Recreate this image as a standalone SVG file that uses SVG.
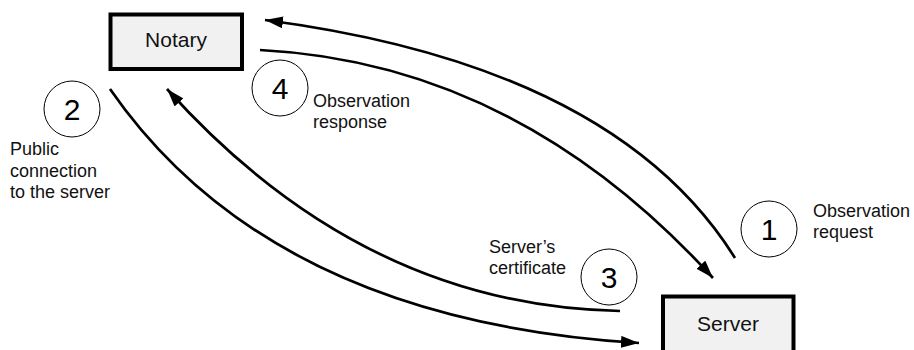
<svg xmlns="http://www.w3.org/2000/svg" width="914" height="350" viewBox="0 0 914 350">
<style>
.box{fill:#f1f1f1;stroke:#000;stroke-width:4}
.bt{font-family:"Liberation Sans",Arial,sans-serif;font-size:21px;fill:#111;text-anchor:middle}
.num{fill:#fff;stroke:#000;stroke-width:1}
.nt{font-family:"Liberation Sans",Arial,sans-serif;font-size:30px;fill:#000;text-anchor:middle}
.lb{font-family:"Liberation Sans",Arial,sans-serif;font-size:18px;fill:#111}
.conn{fill:none;stroke:#000;stroke-width:2.7}
</style>
<defs>
<marker id="ah" markerUnits="userSpaceOnUse" markerWidth="20" markerHeight="14" refX="18" refY="6" orient="auto">
<path d="M0,0 L18,6 L0,12 z" fill="#000"/>
</marker>
</defs>
<g id="connectors">
<path class="conn" d="M735,258 Q615,66 265,20" marker-end="url(#ah)"/>
<path class="conn" d="M260,50 Q517,63 713,278" marker-end="url(#ah)"/>
<path class="conn" d="M620,311 Q362,306 167,89" marker-end="url(#ah)"/>
<path class="conn" d="M110,89 Q270,320 639,343" marker-end="url(#ah)"/>
</g>
<g id="notary">
<rect class="box" x="110.5" y="14.5" width="131.5" height="54.5"/>
<text class="bt" x="176" y="47">Notary</text>
</g>
<g id="server">
<rect class="box" x="663" y="296.5" width="130.5" height="60"/>
<text class="bt" x="728" y="331">Server</text>
</g>
<g id="step1">
<circle class="num" cx="769" cy="229" r="28"/>
<text class="nt" x="769" y="240">1</text>
<text class="lb" x="813" y="217">Observation</text>
<text class="lb" x="813" y="238">request</text>
</g>
<g id="step2">
<circle class="num" cx="72" cy="109" r="28"/>
<text class="nt" x="72" y="120">2</text>
<text class="lb" x="10" y="155">Public</text>
<text class="lb" x="10" y="177">connection</text>
<text class="lb" x="10" y="198">to the server</text>
</g>
<g id="step3">
<circle class="num" cx="609" cy="277" r="28"/>
<text class="nt" x="609" y="288">3</text>
<text class="lb" x="489" y="253">Server’s</text>
<text class="lb" x="489" y="274">certificate</text>
</g>
<g id="step4">
<circle class="num" cx="280" cy="88" r="28"/>
<text class="nt" x="280" y="99">4</text>
<text class="lb" x="313" y="107">Observation</text>
<text class="lb" x="313" y="128">response</text>
</g>
</svg>
